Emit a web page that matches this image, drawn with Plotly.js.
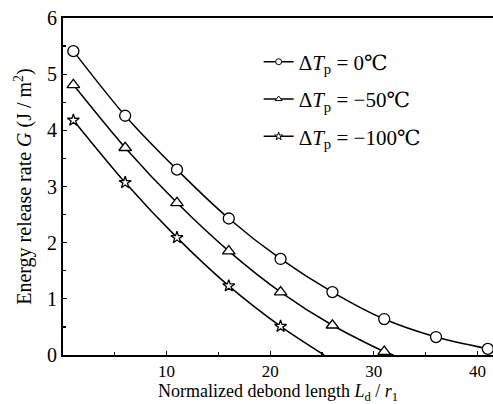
<!DOCTYPE html>
<html>
<head>
<meta charset="utf-8">
<script src="https://cdn.plot.ly/plotly-3.0.1.min.js"></script>
<style>html,body{margin:0;padding:0;background:#fff;}#chart{width:493px;height:404px;}</style>
</head>
<body>
<div id="chart"></div>
<script>
// Data
const xCircle = [1, 6, 11, 16, 21, 26, 31, 36, 41];
const gCircle = [5.41, 4.26, 3.30, 2.43, 1.71, 1.12, 0.64, 0.32, 0.11];

const xTri = [1, 6, 11, 16, 21, 26, 31];
const gTri = [4.81, 3.69, 2.71, 1.85, 1.12, 0.53, 0.06];
const triZeroX = 31.9;

const xStar = [1, 6, 11, 16, 21];
const gStar = [4.18, 3.07, 2.09, 1.23, 0.51];
const starZeroX = 25.2;

const legendNames = [
  'Δ<i>T</i><sub>p</sub> = 0℃',
  'Δ<i>T</i><sub>p</sub> = −50℃',
  'Δ<i>T</i><sub>p</sub> = −100℃'
];

const xTickVals = [10, 20, 30, 40];
const yTickVals = [0, 1, 2, 3, 4, 5, 6];

const FONT = '"Liberation Serif", "DejaVu Serif", serif';
const lineStyle = {color: '#000', width: 1.5, shape: 'spline', smoothing: 0.8};

function curve(x, y) {
  return {x: x, y: y, mode: 'lines', line: lineStyle, showlegend: false, hoverinfo: 'skip'};
}
function marks(x, y, sym, size) {
  return {x: x, y: y, mode: 'markers', showlegend: false, hoverinfo: 'skip', cliponaxis: false,
    marker: {symbol: sym, size: size, color: '#fff', line: {color: '#000', width: 1.3}}};
}
function legendItem(name, sym, size, grp) {
  return {x: [null], y: [null], name: name, mode: 'lines+markers', legendgroup: grp,
    line: {color: '#000', width: 1.5},
    marker: {symbol: sym, size: size, color: '#fff', line: {color: '#000', width: 1}}};
}

const traces = [
  curve(xCircle, gCircle),
  curve(xTri.concat([triZeroX]), gTri.concat([0])),
  curve(xStar.concat([starZeroX]), gStar.concat([0])),
  marks(xCircle, gCircle, 'circle', 11),
  marks(xTri, gTri, 'triangle-up', 11),
  marks(xStar, gStar, 'star', 9),
  legendItem(legendNames[0], 'circle', 6, 'a'),
  legendItem(legendNames[1], 'triangle-up', 6, 'b'),
  legendItem(legendNames[2], 'star', 6, 'c')
];

const layout = {
  width: 493, height: 404,
  margin: {l: 63, r: 0, t: 18, b: 49},
  paper_bgcolor: '#fff', plot_bgcolor: '#fff',
  font: {family: FONT, size: 19, color: '#000'},
  showlegend: true,
  legend: {x: 0.455, y: 0.93, xanchor: 'left', yanchor: 'top', bgcolor: 'rgba(0,0,0,0)',
    font: {family: FONT, size: 21, color: '#000'}, itemwidth: 30, tracegroupgap: 7, traceorder: 'grouped'},
  xaxis: {
    range: [0, 41.5], showgrid: false, zeroline: false,
    showline: true, linecolor: '#000', linewidth: 2, mirror: true,
    tickmode: 'array', tickvals: xTickVals, ticks: 'inside', ticklen: 4, tickwidth: 1.2, tickcolor: '#000',
    minor: {dtick: 5, ticks: 'inside', ticklen: 3, tickcolor: '#000', showgrid: false},
    tickfont: {family: FONT, size: 17},
    title: {text: 'Normalized debond length <i>L</i><sub>d</sub> / <i>r</i><sub>1</sub>', font: {family: FONT, size: 18}, standoff: 5}
  },
  yaxis: {
    range: [0, 6], showgrid: false, zeroline: false,
    showline: true, linecolor: '#000', linewidth: 2, mirror: false,
    tickmode: 'array', tickvals: yTickVals, ticks: 'inside', ticklen: 4, tickwidth: 1.2, tickcolor: '#000',
    minor: {dtick: 0.5, ticks: 'inside', ticklen: 3, tickcolor: '#000', showgrid: false},
    tickfont: {family: FONT, size: 20},
    title: {text: 'Energy release rate <i>G</i> (J / m<sup>2</sup>)', font: {family: FONT, size: 20}, standoff: 10}
  }
};

Plotly.newPlot('chart', traces, layout, {displayModeBar: false, staticPlot: true});
</script>
</body>
</html>
